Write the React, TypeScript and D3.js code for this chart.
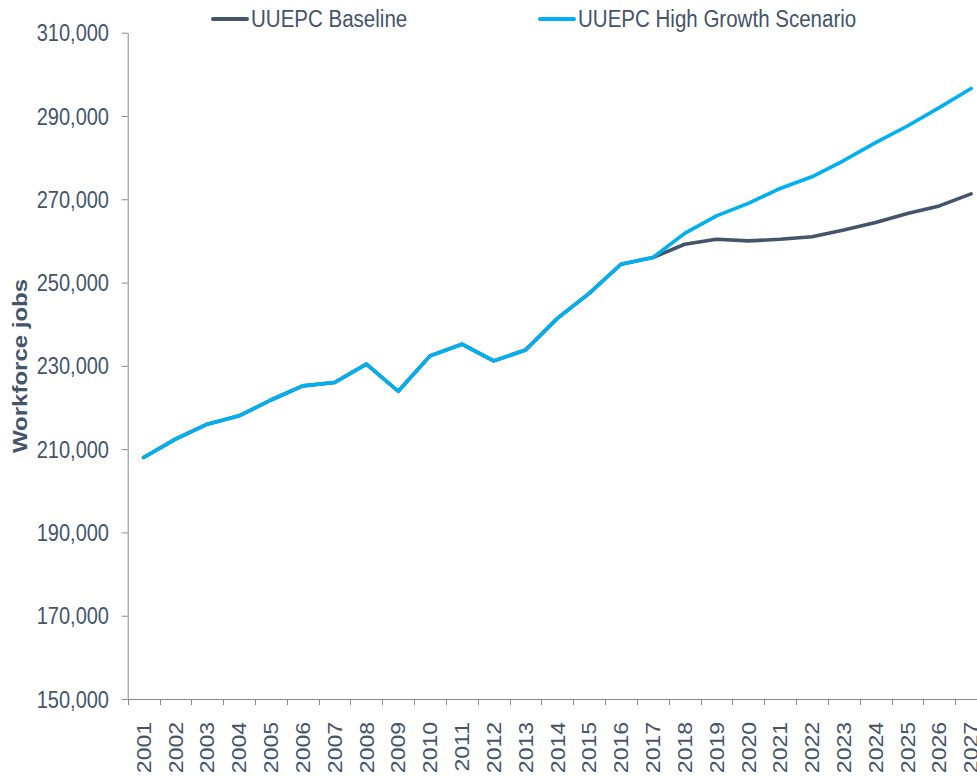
import { useRef, useEffect } from "react";
import * as d3 from "d3";

const years = [
  "2001", "2002", "2003", "2004", "2005", "2006", "2007", "2008", "2009",
  "2010", "2011", "2012", "2013", "2014", "2015", "2016", "2017", "2018",
  "2019", "2020", "2021", "2022", "2023", "2024", "2025", "2026", "2027",
];

const baseline = [
  208000, 212400, 216000, 218000, 221800, 225200, 226000, 230400, 223900,
  232400, 235200, 231200, 233800, 241400, 247400, 254400, 256000, 259200,
  260400, 260000, 260400, 261000, 262600, 264400, 266600, 268400, 271300,
];

const highGrowth = [
  208000, 212400, 216000, 218000, 221800, 225200, 226000, 230400, 223900,
  232400, 235200, 231200, 233800, 241400, 247400, 254400, 256000, 261800,
  266000, 269000, 272600, 275400, 279300, 283600, 287600, 292000, 296600,
];

const yTicks = [150000, 170000, 190000, 210000, 230000, 250000, 270000, 290000, 310000];

const seriesNames = ["UUEPC Baseline", "UUEPC High Growth Scenario"];
const seriesColors = ["#44546A", "#00B0F0"];

const textColor = "#44546A";
const axisColor = "#898989";
const font = "'Liberation Sans', Arial, sans-serif";
const squeeze = 0.87;

function App() {
  const svgRef = useRef<SVGSVGElement | null>(null);

  useEffect(() => {
    const svg = d3.select(svgRef.current);
    svg.selectAll("*").remove();

    const left = 127.7;
    const bottom = 699;

    const x = d3.scaleBand<string>().domain(years).range([left, 987]).padding(0);
    const y = d3.scaleLinear().domain([150000, 310000]).range([bottom, 32.7]);

    // y axis
    const yAxis = svg
      .append("g")
      .attr("transform", `translate(${left},0)`)
      .call(
        d3
          .axisLeft(y)
          .tickValues(yTicks)
          .tickSize(6)
          .tickSizeOuter(0)
          .tickFormat(d3.format(","))
      )
      .attr("font-family", font)
      .attr("font-size", 23);
    yAxis.select(".domain").attr("stroke", axisColor);
    yAxis.selectAll(".tick line").attr("stroke", axisColor);
    yAxis
      .selectAll(".tick text")
      .attr("x", 0)
      .attr("dy", "0.35em")
      .attr("fill", textColor)
      .attr("transform", `translate(-18.7,0) scale(${squeeze},1)`);

    // x axis
    const xAxis = svg.append("g");
    xAxis
      .append("line")
      .attr("x1", left)
      .attr("x2", 987)
      .attr("y1", bottom + 0.5)
      .attr("y2", bottom + 0.5)
      .attr("stroke", axisColor);
    xAxis
      .selectAll(".xtick")
      .data(years)
      .join("line")
      .attr("class", "xtick")
      .attr("x1", (d) => Math.round(x(d)!) + 0.5)
      .attr("x2", (d) => Math.round(x(d)!) + 0.5)
      .attr("y1", bottom)
      .attr("y2", bottom + 6)
      .attr("stroke", axisColor);
    xAxis
      .selectAll(".xlabel")
      .data(years)
      .join("text")
      .attr("class", "xlabel")
      .attr(
        "transform",
        (d) => `translate(${x(d)! + x.bandwidth() / 2},722) scale(${squeeze},1) rotate(-90)`
      )
      .attr("text-anchor", "end")
      .attr("dy", "0.36em")
      .attr("font-family", font)
      .attr("font-size", 23)
      .attr("fill", textColor)
      .text((d) => d);

    // axis title
    svg
      .append("text")
      .attr("transform", `translate(19,366) scale(${squeeze},1) rotate(-90)`)
      .attr("text-anchor", "middle")
      .attr("dy", "0.36em")
      .attr("font-family", font)
      .attr("font-size", 24)
      .attr("font-weight", "bold")
      .attr("fill", textColor)
      .text("Workforce jobs");

    // lines
    const line = d3
      .line<number>()
      .x((_, i) => x(years[i])! + x.bandwidth() / 2)
      .y((d) => y(d));

    [baseline, highGrowth].forEach((series, i) => {
      svg
        .append("path")
        .datum(series)
        .attr("d", line)
        .attr("fill", "none")
        .attr("stroke", seriesColors[i])
        .attr("stroke-width", 3.6)
        .attr("stroke-linejoin", "round")
        .attr("stroke-linecap", "round");
    });

    // legend
    const legendX = [213, 540];
    const legend = svg
      .selectAll(".legend")
      .data(seriesNames)
      .join("g")
      .attr("class", "legend")
      .attr("transform", (_, i) => `translate(${legendX[i]},19)`);
    legend
      .append("line")
      .attr("x1", 0)
      .attr("x2", 34)
      .attr("stroke", (_, i) => seriesColors[i])
      .attr("stroke-width", 4)
      .attr("stroke-linecap", "round");
    legend
      .append("text")
      .attr("transform", `translate(38,0) scale(0.885,1)`)
      .attr("dy", "0.36em")
      .attr("font-family", font)
      .attr("font-size", 23.2)
      .attr("fill", textColor)
      .text((d) => d);
  }, []);

  return (
    <svg
      ref={svgRef}
      width={977}
      height={777}
      style={{ position: "absolute", left: 0, top: 0, background: "#fff" }}
    />
  );
}

export default App;
